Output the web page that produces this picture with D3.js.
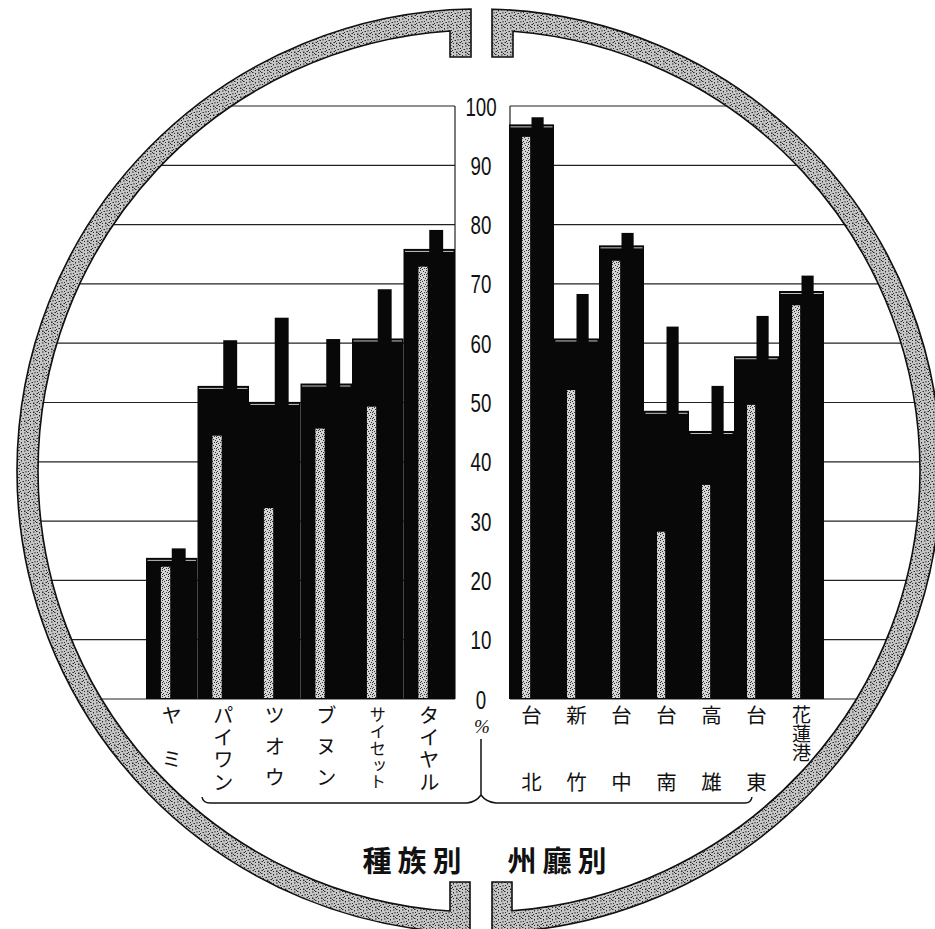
<!DOCTYPE html>
<html><head><meta charset="utf-8">
<script src="https://cdn.jsdelivr.net/npm/d3@7"></script>
<style>body{margin:0;background:#fff}svg{display:block}</style>
</head><body>
<script>
// ---- data ----
const tribes = ["ヤミ","パイワン","ツオウ","ブヌン","サイセット","タイヤル"];
const tribeTotal  = [23.8, 52.8, 50.1, 53.2, 60.8, 75.9];
const tribeMale   = [25.4, 60.5, 64.3, 60.7, 69.1, 79.1];
const tribeFemale = [22.3, 44.4, 32.2, 45.6, 49.3, 72.9];

const prefs = ["台北","新竹","台中","台南","高雄","台東","花蓮港"];
const prefTotal  = [96.9, 60.8, 76.5, 48.6, 45.2, 57.8, 68.8];
const prefMale   = [98.1, 68.3, 78.6, 62.8, 52.8, 64.6, 71.4];
const prefFemale = [94.8, 52.1, 73.9, 28.2, 36.1, 49.6, 66.4];

const tickValues = [0,10,20,30,40,50,60,70,80,90,100];
const tickLabels = ["0","10","20","30","40","50","60","70","80","90","100"];
const titleLeft = "種族別";
const titleRight = "州廳別";
const unitLabel = "%";

// ---- layout ----
const W = 935, H = 929;
const cx = 479, cy = 471, Ro = 462, Ri = 441;
const svg = d3.select("body").append("svg").attr("width", W).attr("height", H);
const defs = svg.append("defs");

function speckle(id, base, size, dots, dotColor) {
  const p = defs.append("pattern").attr("id", id)
    .attr("width", size).attr("height", size).attr("patternUnits", "userSpaceOnUse");
  p.append("rect").attr("width", size).attr("height", size).attr("fill", base);
  dots.forEach(d => p.append("rect").attr("x", d[0]).attr("y", d[1])
    .attr("width", d[2]).attr("height", d[3]).attr("fill", dotColor));
}
speckle("band", "#c6c6c6", 9,
  [[0,0,1.5,1],[3,1,1,1.5],[6,0.5,1.5,1],[1,3,1,1],[4.5,4,1.5,1],[7.5,3,1,1.5],
   [0.5,6,1.5,1],[3,7,1,1],[6,6.5,1.5,1.5],[2,5,1,1],[8,8,1,1]], "#2a2a2a");
speckle("stripe", "#d4d4d4", 6,
  [[0,0,1,1],[3,1,1,1],[1,3,1,1],[4,4,1,1],[2,5,1,1],[5,2,1,1],[0,4,1,1]], "#333");

const y = d3.scaleLinear().domain([0, 100]).range([699, 106]);
const xL = d3.scaleBand().domain(tribes).range([146, 455]).padding(0);
const xR = d3.scaleBand().domain(prefs).range([509, 824]).padding(0);

// ---- grid ----
const grid = svg.append("g").attr("stroke", "#222").attr("stroke-width", 1.2);
tickValues.forEach(v => {
  const yy = y(v);
  const dx = Math.sqrt(Ri * Ri - (yy - cy) * (yy - cy));
  grid.append("line").attr("x1", cx - dx).attr("x2", 455).attr("y1", yy).attr("y2", yy);
  grid.append("line").attr("x1", 510).attr("x2", cx + dx).attr("y1", yy).attr("y2", yy);
});
grid.append("line").attr("x1", 455).attr("x2", 455).attr("y1", y(100)).attr("y2", y(0));
grid.append("line").attr("x1", 510).attr("x2", 510).attr("y1", y(100)).attr("y2", y(0));

// ---- bars ----
function drawBars(cats, total, male, female, xs) {
  const g = svg.append("g");
  const w = xs.bandwidth();
  cats.forEach((c, i) => {
    const x0 = xs(c);
    g.append("rect").attr("x", x0).attr("y", y(total[i])).attr("width", w)
      .attr("height", y(0) - y(total[i])).attr("fill", "#080808");
    g.append("line").attr("x1", x0 + 1.5).attr("x2", x0 + w - 1.5)
      .attr("y1", y(total[i]) + 2.5).attr("y2", y(total[i]) + 2.5)
      .attr("stroke", "#fff").attr("stroke-width", 0.9).attr("opacity", 0.85);
    g.append("rect").attr("x", x0 + 0.29 * w).attr("y", y(female[i])).attr("width", 0.18 * w)
      .attr("height", y(0) - y(female[i]) - 1).attr("fill", "url(#stripe)");
    g.append("rect").attr("x", x0 + 0.5 * w).attr("y", y(male[i])).attr("width", 0.27 * w)
      .attr("height", y(0) - y(male[i])).attr("fill", "#080808");
  });
}
drawBars(tribes, tribeTotal, tribeMale, tribeFemale, xL);
drawBars(prefs, prefTotal, prefMale, prefFemale, xR);

// ---- tick labels ----
const tl = svg.append("g").attr("font-family", "Liberation Sans, Arial, sans-serif")
  .attr("font-size", 26).attr("fill", "#111").attr("text-anchor", "middle");
tickValues.forEach((v, i) => {
  tl.append("text").attr("transform", `translate(481,${y(v) + 9.5}) scale(0.72,1)`).text(tickLabels[i]);
});
svg.append("text").attr("x", 482).attr("y", 733).attr("text-anchor", "middle")
  .attr("font-family", "Liberation Serif, serif").attr("font-style", "italic")
  .attr("font-size", 19).attr("fill", "#111").text(unitLabel);

// ---- category labels (vertical writing) ----
const lab = svg.append("g").attr("font-family", "Noto Sans CJK JP, sans-serif")
  .attr("fill", "#111");
function vlabels(cats, xs, isLeft) {
  cats.forEach(c => {
    const n = Array.from(c).length;
    const xc = xs(c) + xs.bandwidth() / 2;
    let step, fs;
    if (n === 2) { step = isLeft ? 44 : 67; fs = 20.5; }
    else if (n === 3) { step = isLeft ? 31 : 19; fs = isLeft ? 20.5 : 19; }
    else { step = 67 / (n - 1); fs = n >= 5 ? 16.5 : 20.5; }
    lab.append("text")
      .attr("x", xc).attr("y", 715 - fs / 2)
      .attr("font-size", fs)
      .style("writing-mode", "vertical-rl")
      .style("letter-spacing", (step - fs) + "px")
      .text(c);
  });
}
vlabels(tribes, xL, true);
vlabels(prefs, xR, false);

// ---- brace ----
svg.append("path").attr("fill", "none").attr("stroke", "#111").attr("stroke-width", 1.5)
  .attr("d", "M481,739 L481,795 M202,797 Q203,803 210,803 L467,803 Q476,802 481,795 Q486,802 496,803 L745,803 Q751,803 752,797");

// ---- titles ----
const tt = svg.append("g").attr("font-family", "Noto Sans CJK JP, sans-serif")
  .attr("font-size", 29).attr("font-weight", 700).attr("fill", "#111")
  .attr("text-anchor", "middle").attr("letter-spacing", 6);
tt.append("text").attr("x", 415).attr("y", 872).text(titleLeft);
tt.append("text").attr("x", 560).attr("y", 872).text(titleRight);

// ---- circular frame ----
const yOt = x => cy - Math.sqrt(Ro * Ro - (x - cx) * (x - cx));
const yOb = x => cy + Math.sqrt(Ro * Ro - (x - cx) * (x - cx));
const yIt = x => cy - Math.sqrt(Ri * Ri - (x - cx) * (x - cx));
const yIb = x => cy + Math.sqrt(Ri * Ri - (x - cx) * (x - cx));
const leftHalf = `M471,${yOt(471)} A${Ro},${Ro} 0 0 0 470,${yOb(470)} L470,882 L450,882 L450,${yIb(450)}
  A${Ri},${Ri} 0 0 1 450,${yIt(450)} L450,57 L471,57 Z`;
const rightHalf = `M492,${yOt(492)} L492,57 L513,57 L513,${yIt(513)} A${Ri},${Ri} 0 0 1 512,${yIb(512)}
  L512,882 L492,882 L492,${yOb(492)} A${Ro},${Ro} 0 0 0 492,${yOt(492)} Z`;
svg.append("path").attr("d", leftHalf).attr("fill", "url(#band)").attr("stroke", "#111").attr("stroke-width", 1.6);
svg.append("path").attr("d", rightHalf).attr("fill", "url(#band)").attr("stroke", "#111").attr("stroke-width", 1.6);
</script>
</body></html>
